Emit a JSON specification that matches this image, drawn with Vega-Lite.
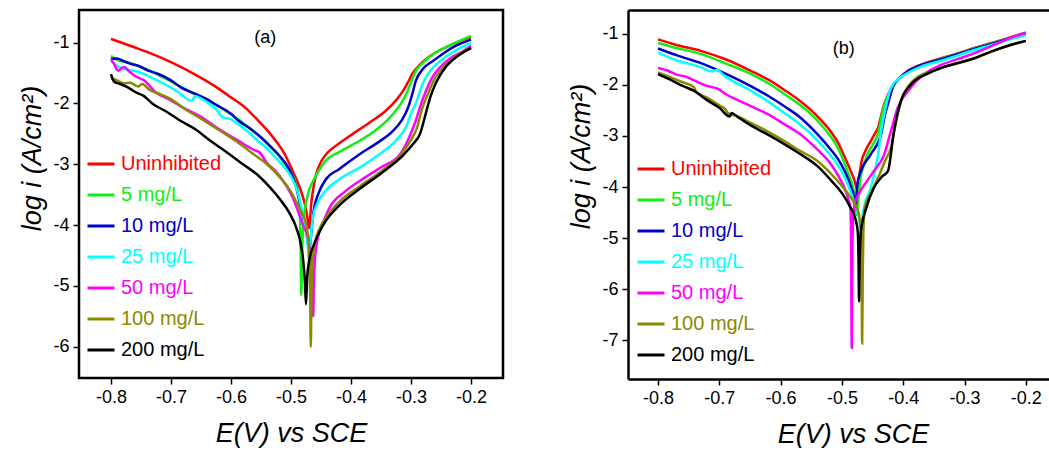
{
  "$schema": "https://vega.github.io/schema/vega-lite/v6.json",
  "padding": {"left": 16, "top": 8, "right": 0, "bottom": 0},
  "background": "white",
  "spacing": 62,
  "config": {
    "font": "Liberation Sans",
    "axis": {
      "grid": false,
      "domain": false,
      "labelFont": "Liberation Sans",
      "labelFontSize": 18,
      "labelColor": "black",
      "labelPadding": 4,
      "tickColor": "black",
      "tickSize": 6,
      "tickWidth": 1.5,
      "titleFont": "Liberation Sans",
      "titleFontSize": 27,
      "titleFontStyle": "italic",
      "titleFontWeight": "normal",
      "titleColor": "black"
    },
    "legend": {
      "orient": "none",
      "title": null,
      "padding": 0,
      "symbolType": "stroke",
      "symbolSize": 729,
      "symbolStrokeWidth": 3,
      "labelFont": "Liberation Sans",
      "labelFontSize": 20,
      "labelOffset": 5,
      "rowPadding": 6
    }
  },
  "datasets": {
    "a": [
      {"s":"Uninhibited","E":-0.800,"i":-0.94},{"s":"Uninhibited","E":-0.760,"i":-1.08},{"s":"Uninhibited","E":-0.738,"i":-1.16},{"s":"Uninhibited","E":-0.700,"i":-1.32},{"s":"Uninhibited","E":-0.655,"i":-1.55},{"s":"Uninhibited","E":-0.620,"i":-1.76},{"s":"Uninhibited","E":-0.600,"i":-1.90},{"s":"Uninhibited","E":-0.575,"i":-2.08},{"s":"Uninhibited","E":-0.555,"i":-2.28},{"s":"Uninhibited","E":-0.538,"i":-2.46},{"s":"Uninhibited","E":-0.522,"i":-2.66},{"s":"Uninhibited","E":-0.510,"i":-2.84},{"s":"Uninhibited","E":-0.500,"i":-3.05},{"s":"Uninhibited","E":-0.490,"i":-3.27},{"s":"Uninhibited","E":-0.482,"i":-3.48},{"s":"Uninhibited","E":-0.477,"i":-3.65},{"s":"Uninhibited","E":-0.473,"i":-3.85},{"s":"Uninhibited","E":-0.470,"i":-4.05},{"s":"Uninhibited","E":-0.466,"i":-3.62},{"s":"Uninhibited","E":-0.462,"i":-3.35},{"s":"Uninhibited","E":-0.458,"i":-3.16},{"s":"Uninhibited","E":-0.450,"i":-2.96},{"s":"Uninhibited","E":-0.440,"i":-2.82},{"s":"Uninhibited","E":-0.420,"i":-2.66},{"s":"Uninhibited","E":-0.397,"i":-2.50},{"s":"Uninhibited","E":-0.370,"i":-2.32},{"s":"Uninhibited","E":-0.342,"i":-2.12},{"s":"Uninhibited","E":-0.325,"i":-1.95},{"s":"Uninhibited","E":-0.313,"i":-1.79},{"s":"Uninhibited","E":-0.305,"i":-1.65},{"s":"Uninhibited","E":-0.297,"i":-1.50},{"s":"Uninhibited","E":-0.285,"i":-1.36},{"s":"Uninhibited","E":-0.265,"i":-1.20},{"s":"Uninhibited","E":-0.240,"i":-1.07},{"s":"Uninhibited","E":-0.220,"i":-0.98},{"s":"Uninhibited","E":-0.200,"i":-0.91},

      {"s":"5 mg/L","E":-0.800,"i":-1.22},{"s":"5 mg/L","E":-0.790,"i":-1.28},{"s":"5 mg/L","E":-0.767,"i":-1.34},{"s":"5 mg/L","E":-0.738,"i":-1.45},{"s":"5 mg/L","E":-0.700,"i":-1.64},{"s":"5 mg/L","E":-0.683,"i":-1.73},{"s":"5 mg/L","E":-0.650,"i":-1.90},{"s":"5 mg/L","E":-0.627,"i":-2.01},{"s":"5 mg/L","E":-0.600,"i":-2.18},{"s":"5 mg/L","E":-0.588,"i":-2.26},{"s":"5 mg/L","E":-0.570,"i":-2.40},{"s":"5 mg/L","E":-0.550,"i":-2.55},{"s":"5 mg/L","E":-0.535,"i":-2.70},{"s":"5 mg/L","E":-0.522,"i":-2.84},{"s":"5 mg/L","E":-0.510,"i":-3.00},{"s":"5 mg/L","E":-0.500,"i":-3.14},{"s":"5 mg/L","E":-0.492,"i":-3.32},{"s":"5 mg/L","E":-0.487,"i":-3.55},{"s":"5 mg/L","E":-0.485,"i":-3.85},{"s":"5 mg/L","E":-0.484,"i":-4.40},{"s":"5 mg/L","E":-0.483,"i":-5.15},{"s":"5 mg/L","E":-0.481,"i":-4.30},{"s":"5 mg/L","E":-0.478,"i":-3.85},{"s":"5 mg/L","E":-0.472,"i":-3.50},{"s":"5 mg/L","E":-0.463,"i":-3.27},{"s":"5 mg/L","E":-0.452,"i":-3.08},{"s":"5 mg/L","E":-0.442,"i":-2.94},{"s":"5 mg/L","E":-0.420,"i":-2.80},{"s":"5 mg/L","E":-0.385,"i":-2.61},{"s":"5 mg/L","E":-0.360,"i":-2.45},{"s":"5 mg/L","E":-0.335,"i":-2.23},{"s":"5 mg/L","E":-0.318,"i":-2.02},{"s":"5 mg/L","E":-0.308,"i":-1.85},{"s":"5 mg/L","E":-0.300,"i":-1.65},{"s":"5 mg/L","E":-0.292,"i":-1.47},{"s":"5 mg/L","E":-0.280,"i":-1.33},{"s":"5 mg/L","E":-0.263,"i":-1.19},{"s":"5 mg/L","E":-0.245,"i":-1.09},{"s":"5 mg/L","E":-0.230,"i":-1.02},{"s":"5 mg/L","E":-0.200,"i":-0.89},

      {"s":"10 mg/L","E":-0.800,"i":-1.27},{"s":"10 mg/L","E":-0.790,"i":-1.26},{"s":"10 mg/L","E":-0.780,"i":-1.30},{"s":"10 mg/L","E":-0.767,"i":-1.35},{"s":"10 mg/L","E":-0.755,"i":-1.38},{"s":"10 mg/L","E":-0.738,"i":-1.46},{"s":"10 mg/L","E":-0.720,"i":-1.52},{"s":"10 mg/L","E":-0.700,"i":-1.62},{"s":"10 mg/L","E":-0.683,"i":-1.74},{"s":"10 mg/L","E":-0.660,"i":-1.84},{"s":"10 mg/L","E":-0.640,"i":-1.93},{"s":"10 mg/L","E":-0.627,"i":-2.01},{"s":"10 mg/L","E":-0.600,"i":-2.17},{"s":"10 mg/L","E":-0.588,"i":-2.28},{"s":"10 mg/L","E":-0.570,"i":-2.40},{"s":"10 mg/L","E":-0.550,"i":-2.56},{"s":"10 mg/L","E":-0.535,"i":-2.70},{"s":"10 mg/L","E":-0.522,"i":-2.83},{"s":"10 mg/L","E":-0.510,"i":-2.97},{"s":"10 mg/L","E":-0.502,"i":-3.10},{"s":"10 mg/L","E":-0.492,"i":-3.35},{"s":"10 mg/L","E":-0.485,"i":-3.65},{"s":"10 mg/L","E":-0.478,"i":-3.95},{"s":"10 mg/L","E":-0.472,"i":-4.20},{"s":"10 mg/L","E":-0.469,"i":-4.40},{"s":"10 mg/L","E":-0.466,"i":-4.10},{"s":"10 mg/L","E":-0.462,"i":-3.75},{"s":"10 mg/L","E":-0.455,"i":-3.50},{"s":"10 mg/L","E":-0.442,"i":-3.25},{"s":"10 mg/L","E":-0.420,"i":-3.08},{"s":"10 mg/L","E":-0.385,"i":-2.83},{"s":"10 mg/L","E":-0.355,"i":-2.64},{"s":"10 mg/L","E":-0.330,"i":-2.45},{"s":"10 mg/L","E":-0.315,"i":-2.27},{"s":"10 mg/L","E":-0.305,"i":-2.07},{"s":"10 mg/L","E":-0.298,"i":-1.85},{"s":"10 mg/L","E":-0.292,"i":-1.63},{"s":"10 mg/L","E":-0.280,"i":-1.43},{"s":"10 mg/L","E":-0.263,"i":-1.30},{"s":"10 mg/L","E":-0.245,"i":-1.17},{"s":"10 mg/L","E":-0.225,"i":-1.05},{"s":"10 mg/L","E":-0.200,"i":-0.95},

      {"s":"25 mg/L","E":-0.800,"i":-1.30},{"s":"25 mg/L","E":-0.790,"i":-1.38},{"s":"25 mg/L","E":-0.775,"i":-1.44},{"s":"25 mg/L","E":-0.755,"i":-1.48},{"s":"25 mg/L","E":-0.738,"i":-1.55},{"s":"25 mg/L","E":-0.715,"i":-1.66},{"s":"25 mg/L","E":-0.690,"i":-1.80},{"s":"25 mg/L","E":-0.665,"i":-1.96},{"s":"25 mg/L","E":-0.660,"i":-1.88},{"s":"25 mg/L","E":-0.640,"i":-1.98},{"s":"25 mg/L","E":-0.625,"i":-2.09},{"s":"25 mg/L","E":-0.615,"i":-2.22},{"s":"25 mg/L","E":-0.600,"i":-2.26},{"s":"25 mg/L","E":-0.588,"i":-2.34},{"s":"25 mg/L","E":-0.570,"i":-2.48},{"s":"25 mg/L","E":-0.555,"i":-2.62},{"s":"25 mg/L","E":-0.540,"i":-2.74},{"s":"25 mg/L","E":-0.525,"i":-2.90},{"s":"25 mg/L","E":-0.510,"i":-3.06},{"s":"25 mg/L","E":-0.500,"i":-3.20},{"s":"25 mg/L","E":-0.490,"i":-3.42},{"s":"25 mg/L","E":-0.483,"i":-3.70},{"s":"25 mg/L","E":-0.476,"i":-4.05},{"s":"25 mg/L","E":-0.472,"i":-4.35},{"s":"25 mg/L","E":-0.470,"i":-4.60},{"s":"25 mg/L","E":-0.467,"i":-4.20},{"s":"25 mg/L","E":-0.463,"i":-3.85},{"s":"25 mg/L","E":-0.455,"i":-3.62},{"s":"25 mg/L","E":-0.442,"i":-3.43},{"s":"25 mg/L","E":-0.420,"i":-3.25},{"s":"25 mg/L","E":-0.385,"i":-3.05},{"s":"25 mg/L","E":-0.355,"i":-2.85},{"s":"25 mg/L","E":-0.325,"i":-2.61},{"s":"25 mg/L","E":-0.308,"i":-2.38},{"s":"25 mg/L","E":-0.300,"i":-2.17},{"s":"25 mg/L","E":-0.290,"i":-1.95},{"s":"25 mg/L","E":-0.283,"i":-1.74},{"s":"25 mg/L","E":-0.272,"i":-1.52},{"s":"25 mg/L","E":-0.258,"i":-1.36},{"s":"25 mg/L","E":-0.240,"i":-1.22},{"s":"25 mg/L","E":-0.220,"i":-1.10},{"s":"25 mg/L","E":-0.200,"i":-1.01},

      {"s":"50 mg/L","E":-0.800,"i":-1.27},{"s":"50 mg/L","E":-0.795,"i":-1.35},{"s":"50 mg/L","E":-0.788,"i":-1.46},{"s":"50 mg/L","E":-0.782,"i":-1.42},{"s":"50 mg/L","E":-0.778,"i":-1.40},{"s":"50 mg/L","E":-0.770,"i":-1.47},{"s":"50 mg/L","E":-0.760,"i":-1.55},{"s":"50 mg/L","E":-0.745,"i":-1.62},{"s":"50 mg/L","E":-0.725,"i":-1.82},{"s":"50 mg/L","E":-0.700,"i":-1.95},{"s":"50 mg/L","E":-0.680,"i":-2.07},{"s":"50 mg/L","E":-0.650,"i":-2.22},{"s":"50 mg/L","E":-0.620,"i":-2.42},{"s":"50 mg/L","E":-0.590,"i":-2.60},{"s":"50 mg/L","E":-0.558,"i":-2.78},{"s":"50 mg/L","E":-0.553,"i":-2.80},{"s":"50 mg/L","E":-0.540,"i":-2.98},{"s":"50 mg/L","E":-0.525,"i":-3.12},{"s":"50 mg/L","E":-0.510,"i":-3.32},{"s":"50 mg/L","E":-0.497,"i":-3.55},{"s":"50 mg/L","E":-0.488,"i":-3.78},{"s":"50 mg/L","E":-0.480,"i":-4.00},{"s":"50 mg/L","E":-0.472,"i":-4.20},{"s":"50 mg/L","E":-0.467,"i":-4.55},{"s":"50 mg/L","E":-0.464,"i":-5.00},{"s":"50 mg/L","E":-0.463,"i":-5.50},{"s":"50 mg/L","E":-0.462,"i":-5.00},{"s":"50 mg/L","E":-0.460,"i":-4.55},{"s":"50 mg/L","E":-0.455,"i":-4.20},{"s":"50 mg/L","E":-0.445,"i":-3.92},{"s":"50 mg/L","E":-0.435,"i":-3.70},{"s":"50 mg/L","E":-0.410,"i":-3.45},{"s":"50 mg/L","E":-0.385,"i":-3.27},{"s":"50 mg/L","E":-0.350,"i":-3.05},{"s":"50 mg/L","E":-0.318,"i":-2.83},{"s":"50 mg/L","E":-0.305,"i":-2.60},{"s":"50 mg/L","E":-0.292,"i":-2.28},{"s":"50 mg/L","E":-0.283,"i":-2.00},{"s":"50 mg/L","E":-0.275,"i":-1.79},{"s":"50 mg/L","E":-0.265,"i":-1.58},{"s":"50 mg/L","E":-0.252,"i":-1.41},{"s":"50 mg/L","E":-0.235,"i":-1.26},{"s":"50 mg/L","E":-0.215,"i":-1.15},{"s":"50 mg/L","E":-0.200,"i":-1.05},

      {"s":"100 mg/L","E":-0.800,"i":-1.58},{"s":"100 mg/L","E":-0.790,"i":-1.62},{"s":"100 mg/L","E":-0.778,"i":-1.67},{"s":"100 mg/L","E":-0.768,"i":-1.66},{"s":"100 mg/L","E":-0.755,"i":-1.72},{"s":"100 mg/L","E":-0.748,"i":-1.68},{"s":"100 mg/L","E":-0.735,"i":-1.78},{"s":"100 mg/L","E":-0.720,"i":-1.84},{"s":"100 mg/L","E":-0.700,"i":-1.93},{"s":"100 mg/L","E":-0.680,"i":-2.07},{"s":"100 mg/L","E":-0.650,"i":-2.25},{"s":"100 mg/L","E":-0.618,"i":-2.45},{"s":"100 mg/L","E":-0.590,"i":-2.63},{"s":"100 mg/L","E":-0.563,"i":-2.83},{"s":"100 mg/L","E":-0.540,"i":-3.00},{"s":"100 mg/L","E":-0.518,"i":-3.22},{"s":"100 mg/L","E":-0.502,"i":-3.42},{"s":"100 mg/L","E":-0.492,"i":-3.60},{"s":"100 mg/L","E":-0.483,"i":-3.78},{"s":"100 mg/L","E":-0.477,"i":-3.90},{"s":"100 mg/L","E":-0.472,"i":-4.15},{"s":"100 mg/L","E":-0.469,"i":-4.60},{"s":"100 mg/L","E":-0.468,"i":-5.20},{"s":"100 mg/L","E":-0.467,"i":-6.00},{"s":"100 mg/L","E":-0.466,"i":-5.20},{"s":"100 mg/L","E":-0.464,"i":-4.60},{"s":"100 mg/L","E":-0.460,"i":-4.30},{"s":"100 mg/L","E":-0.452,"i":-4.05},{"s":"100 mg/L","E":-0.442,"i":-3.88},{"s":"100 mg/L","E":-0.420,"i":-3.62},{"s":"100 mg/L","E":-0.385,"i":-3.36},{"s":"100 mg/L","E":-0.350,"i":-3.12},{"s":"100 mg/L","E":-0.318,"i":-2.85},{"s":"100 mg/L","E":-0.300,"i":-2.60},{"s":"100 mg/L","E":-0.290,"i":-2.40},{"s":"100 mg/L","E":-0.282,"i":-2.10},{"s":"100 mg/L","E":-0.272,"i":-1.85},{"s":"100 mg/L","E":-0.262,"i":-1.62},{"s":"100 mg/L","E":-0.250,"i":-1.45},{"s":"100 mg/L","E":-0.232,"i":-1.28},{"s":"100 mg/L","E":-0.215,"i":-1.16},{"s":"100 mg/L","E":-0.200,"i":-1.08},

      {"s":"200 mg/L","E":-0.800,"i":-1.52},{"s":"200 mg/L","E":-0.795,"i":-1.64},{"s":"200 mg/L","E":-0.785,"i":-1.68},{"s":"200 mg/L","E":-0.775,"i":-1.72},{"s":"200 mg/L","E":-0.758,"i":-1.82},{"s":"200 mg/L","E":-0.745,"i":-1.88},{"s":"200 mg/L","E":-0.730,"i":-2.01},{"s":"200 mg/L","E":-0.710,"i":-2.12},{"s":"200 mg/L","E":-0.685,"i":-2.28},{"s":"200 mg/L","E":-0.660,"i":-2.42},{"s":"200 mg/L","E":-0.635,"i":-2.61},{"s":"200 mg/L","E":-0.610,"i":-2.78},{"s":"200 mg/L","E":-0.580,"i":-3.00},{"s":"200 mg/L","E":-0.555,"i":-3.18},{"s":"200 mg/L","E":-0.535,"i":-3.38},{"s":"200 mg/L","E":-0.518,"i":-3.58},{"s":"200 mg/L","E":-0.502,"i":-3.81},{"s":"200 mg/L","E":-0.492,"i":-4.02},{"s":"200 mg/L","E":-0.485,"i":-4.25},{"s":"200 mg/L","E":-0.480,"i":-4.55},{"s":"200 mg/L","E":-0.477,"i":-4.90},{"s":"200 mg/L","E":-0.475,"i":-5.30},{"s":"200 mg/L","E":-0.473,"i":-4.85},{"s":"200 mg/L","E":-0.469,"i":-4.55},{"s":"200 mg/L","E":-0.463,"i":-4.35},{"s":"200 mg/L","E":-0.452,"i":-4.10},{"s":"200 mg/L","E":-0.442,"i":-3.93},{"s":"200 mg/L","E":-0.420,"i":-3.68},{"s":"200 mg/L","E":-0.385,"i":-3.40},{"s":"200 mg/L","E":-0.350,"i":-3.15},{"s":"200 mg/L","E":-0.313,"i":-2.85},{"s":"200 mg/L","E":-0.297,"i":-2.67},{"s":"200 mg/L","E":-0.285,"i":-2.50},{"s":"200 mg/L","E":-0.275,"i":-2.15},{"s":"200 mg/L","E":-0.268,"i":-1.90},{"s":"200 mg/L","E":-0.258,"i":-1.65},{"s":"200 mg/L","E":-0.242,"i":-1.40},{"s":"200 mg/L","E":-0.225,"i":-1.24},{"s":"200 mg/L","E":-0.213,"i":-1.16},{"s":"200 mg/L","E":-0.200,"i":-1.09}
    ],
    "b": [
      {"s":"Uninhibited","E":-0.800,"i":-1.11},{"s":"Uninhibited","E":-0.770,"i":-1.22},{"s":"Uninhibited","E":-0.729,"i":-1.34},{"s":"Uninhibited","E":-0.690,"i":-1.50},{"s":"Uninhibited","E":-0.648,"i":-1.73},{"s":"Uninhibited","E":-0.620,"i":-1.90},{"s":"Uninhibited","E":-0.594,"i":-2.10},{"s":"Uninhibited","E":-0.570,"i":-2.30},{"s":"Uninhibited","E":-0.550,"i":-2.50},{"s":"Uninhibited","E":-0.535,"i":-2.68},{"s":"Uninhibited","E":-0.518,"i":-2.92},{"s":"Uninhibited","E":-0.506,"i":-3.14},{"s":"Uninhibited","E":-0.496,"i":-3.40},{"s":"Uninhibited","E":-0.487,"i":-3.65},{"s":"Uninhibited","E":-0.480,"i":-3.85},{"s":"Uninhibited","E":-0.475,"i":-4.05},{"s":"Uninhibited","E":-0.472,"i":-3.80},{"s":"Uninhibited","E":-0.468,"i":-3.50},{"s":"Uninhibited","E":-0.462,"i":-3.30},{"s":"Uninhibited","E":-0.453,"i":-3.10},{"s":"Uninhibited","E":-0.446,"i":-2.95},{"s":"Uninhibited","E":-0.441,"i":-2.84},{"s":"Uninhibited","E":-0.436,"i":-2.60},{"s":"Uninhibited","E":-0.431,"i":-2.38},{"s":"Uninhibited","E":-0.423,"i":-2.15},{"s":"Uninhibited","E":-0.415,"i":-1.99},{"s":"Uninhibited","E":-0.405,"i":-1.85},{"s":"Uninhibited","E":-0.393,"i":-1.73},{"s":"Uninhibited","E":-0.370,"i":-1.60},{"s":"Uninhibited","E":-0.338,"i":-1.48},{"s":"Uninhibited","E":-0.310,"i":-1.38},{"s":"Uninhibited","E":-0.284,"i":-1.28},{"s":"Uninhibited","E":-0.250,"i":-1.16},{"s":"Uninhibited","E":-0.225,"i":-1.07},{"s":"Uninhibited","E":-0.200,"i":-0.98},

      {"s":"5 mg/L","E":-0.800,"i":-1.18},{"s":"5 mg/L","E":-0.770,"i":-1.28},{"s":"5 mg/L","E":-0.729,"i":-1.40},{"s":"5 mg/L","E":-0.690,"i":-1.58},{"s":"5 mg/L","E":-0.648,"i":-1.79},{"s":"5 mg/L","E":-0.620,"i":-1.97},{"s":"5 mg/L","E":-0.594,"i":-2.18},{"s":"5 mg/L","E":-0.570,"i":-2.38},{"s":"5 mg/L","E":-0.550,"i":-2.58},{"s":"5 mg/L","E":-0.535,"i":-2.77},{"s":"5 mg/L","E":-0.518,"i":-3.02},{"s":"5 mg/L","E":-0.506,"i":-3.25},{"s":"5 mg/L","E":-0.497,"i":-3.50},{"s":"5 mg/L","E":-0.490,"i":-3.72},{"s":"5 mg/L","E":-0.484,"i":-3.92},{"s":"5 mg/L","E":-0.479,"i":-4.20},{"s":"5 mg/L","E":-0.476,"i":-4.55},{"s":"5 mg/L","E":-0.473,"i":-4.20},{"s":"5 mg/L","E":-0.470,"i":-3.85},{"s":"5 mg/L","E":-0.465,"i":-3.60},{"s":"5 mg/L","E":-0.458,"i":-3.35},{"s":"5 mg/L","E":-0.450,"i":-3.18},{"s":"5 mg/L","E":-0.441,"i":-2.95},{"s":"5 mg/L","E":-0.434,"i":-2.55},{"s":"5 mg/L","E":-0.428,"i":-2.30},{"s":"5 mg/L","E":-0.420,"i":-2.10},{"s":"5 mg/L","E":-0.410,"i":-1.92},{"s":"5 mg/L","E":-0.393,"i":-1.75},{"s":"5 mg/L","E":-0.370,"i":-1.62},{"s":"5 mg/L","E":-0.338,"i":-1.49},{"s":"5 mg/L","E":-0.310,"i":-1.39},{"s":"5 mg/L","E":-0.284,"i":-1.29},{"s":"5 mg/L","E":-0.250,"i":-1.17},{"s":"5 mg/L","E":-0.225,"i":-1.08},{"s":"5 mg/L","E":-0.200,"i":-0.99},

      {"s":"10 mg/L","E":-0.800,"i":-1.29},{"s":"10 mg/L","E":-0.770,"i":-1.42},{"s":"10 mg/L","E":-0.729,"i":-1.58},{"s":"10 mg/L","E":-0.690,"i":-1.78},{"s":"10 mg/L","E":-0.648,"i":-2.03},{"s":"10 mg/L","E":-0.620,"i":-2.22},{"s":"10 mg/L","E":-0.594,"i":-2.42},{"s":"10 mg/L","E":-0.570,"i":-2.62},{"s":"10 mg/L","E":-0.539,"i":-2.98},{"s":"10 mg/L","E":-0.520,"i":-3.24},{"s":"10 mg/L","E":-0.506,"i":-3.46},{"s":"10 mg/L","E":-0.495,"i":-3.70},{"s":"10 mg/L","E":-0.485,"i":-4.00},{"s":"10 mg/L","E":-0.480,"i":-4.22},{"s":"10 mg/L","E":-0.478,"i":-4.45},{"s":"10 mg/L","E":-0.475,"i":-3.95},{"s":"10 mg/L","E":-0.470,"i":-3.72},{"s":"10 mg/L","E":-0.453,"i":-3.36},{"s":"10 mg/L","E":-0.436,"i":-2.96},{"s":"10 mg/L","E":-0.430,"i":-2.60},{"s":"10 mg/L","E":-0.425,"i":-2.38},{"s":"10 mg/L","E":-0.415,"i":-1.99},{"s":"10 mg/L","E":-0.404,"i":-1.85},{"s":"10 mg/L","E":-0.393,"i":-1.74},{"s":"10 mg/L","E":-0.370,"i":-1.61},{"s":"10 mg/L","E":-0.338,"i":-1.50},{"s":"10 mg/L","E":-0.284,"i":-1.30},{"s":"10 mg/L","E":-0.250,"i":-1.18},{"s":"10 mg/L","E":-0.225,"i":-1.09},{"s":"10 mg/L","E":-0.200,"i":-1.01},

      {"s":"25 mg/L","E":-0.800,"i":-1.37},{"s":"25 mg/L","E":-0.770,"i":-1.52},{"s":"25 mg/L","E":-0.729,"i":-1.66},{"s":"25 mg/L","E":-0.712,"i":-1.74},{"s":"25 mg/L","E":-0.705,"i":-1.71},{"s":"25 mg/L","E":-0.690,"i":-1.84},{"s":"25 mg/L","E":-0.648,"i":-2.12},{"s":"25 mg/L","E":-0.620,"i":-2.33},{"s":"25 mg/L","E":-0.594,"i":-2.55},{"s":"25 mg/L","E":-0.570,"i":-2.76},{"s":"25 mg/L","E":-0.539,"i":-3.10},{"s":"25 mg/L","E":-0.520,"i":-3.36},{"s":"25 mg/L","E":-0.506,"i":-3.58},{"s":"25 mg/L","E":-0.495,"i":-3.82},{"s":"25 mg/L","E":-0.485,"i":-4.12},{"s":"25 mg/L","E":-0.478,"i":-4.38},{"s":"25 mg/L","E":-0.472,"i":-4.62},{"s":"25 mg/L","E":-0.469,"i":-4.85},{"s":"25 mg/L","E":-0.466,"i":-4.55},{"s":"25 mg/L","E":-0.463,"i":-4.35},{"s":"25 mg/L","E":-0.453,"i":-4.02},{"s":"25 mg/L","E":-0.441,"i":-3.36},{"s":"25 mg/L","E":-0.436,"i":-2.90},{"s":"25 mg/L","E":-0.431,"i":-2.57},{"s":"25 mg/L","E":-0.420,"i":-2.06},{"s":"25 mg/L","E":-0.405,"i":-1.86},{"s":"25 mg/L","E":-0.393,"i":-1.77},{"s":"25 mg/L","E":-0.370,"i":-1.64},{"s":"25 mg/L","E":-0.338,"i":-1.53},{"s":"25 mg/L","E":-0.284,"i":-1.32},{"s":"25 mg/L","E":-0.250,"i":-1.20},{"s":"25 mg/L","E":-0.225,"i":-1.11},{"s":"25 mg/L","E":-0.200,"i":-1.03},

      {"s":"50 mg/L","E":-0.800,"i":-1.67},{"s":"50 mg/L","E":-0.785,"i":-1.72},{"s":"50 mg/L","E":-0.770,"i":-1.80},{"s":"50 mg/L","E":-0.755,"i":-1.84},{"s":"50 mg/L","E":-0.740,"i":-1.92},{"s":"50 mg/L","E":-0.720,"i":-2.02},{"s":"50 mg/L","E":-0.702,"i":-2.08},{"s":"50 mg/L","E":-0.690,"i":-2.18},{"s":"50 mg/L","E":-0.670,"i":-2.30},{"s":"50 mg/L","E":-0.648,"i":-2.42},{"s":"50 mg/L","E":-0.620,"i":-2.58},{"s":"50 mg/L","E":-0.594,"i":-2.77},{"s":"50 mg/L","E":-0.570,"i":-2.95},{"s":"50 mg/L","E":-0.539,"i":-3.28},{"s":"50 mg/L","E":-0.520,"i":-3.52},{"s":"50 mg/L","E":-0.506,"i":-3.78},{"s":"50 mg/L","E":-0.495,"i":-4.04},{"s":"50 mg/L","E":-0.490,"i":-4.22},{"s":"50 mg/L","E":-0.486,"i":-4.45},{"s":"50 mg/L","E":-0.485,"i":-5.20},{"s":"50 mg/L","E":-0.484,"i":-7.15},{"s":"50 mg/L","E":-0.483,"i":-5.20},{"s":"50 mg/L","E":-0.481,"i":-4.50},{"s":"50 mg/L","E":-0.478,"i":-4.28},{"s":"50 mg/L","E":-0.472,"i":-4.12},{"s":"50 mg/L","E":-0.460,"i":-3.90},{"s":"50 mg/L","E":-0.448,"i":-3.69},{"s":"50 mg/L","E":-0.431,"i":-3.36},{"s":"50 mg/L","E":-0.420,"i":-2.90},{"s":"50 mg/L","E":-0.409,"i":-2.45},{"s":"50 mg/L","E":-0.392,"i":-2.12},{"s":"50 mg/L","E":-0.366,"i":-1.79},{"s":"50 mg/L","E":-0.340,"i":-1.62},{"s":"50 mg/L","E":-0.300,"i":-1.45},{"s":"50 mg/L","E":-0.284,"i":-1.38},{"s":"50 mg/L","E":-0.250,"i":-1.21},{"s":"50 mg/L","E":-0.225,"i":-1.08},{"s":"50 mg/L","E":-0.200,"i":-0.98},

      {"s":"100 mg/L","E":-0.800,"i":-1.76},{"s":"100 mg/L","E":-0.780,"i":-1.85},{"s":"100 mg/L","E":-0.760,"i":-1.95},{"s":"100 mg/L","E":-0.741,"i":-2.05},{"s":"100 mg/L","E":-0.738,"i":-2.14},{"s":"100 mg/L","E":-0.720,"i":-2.25},{"s":"100 mg/L","E":-0.700,"i":-2.40},{"s":"100 mg/L","E":-0.690,"i":-2.48},{"s":"100 mg/L","E":-0.686,"i":-2.55},{"s":"100 mg/L","E":-0.670,"i":-2.62},{"s":"100 mg/L","E":-0.648,"i":-2.75},{"s":"100 mg/L","E":-0.620,"i":-2.92},{"s":"100 mg/L","E":-0.594,"i":-3.10},{"s":"100 mg/L","E":-0.570,"i":-3.28},{"s":"100 mg/L","E":-0.539,"i":-3.50},{"s":"100 mg/L","E":-0.517,"i":-3.75},{"s":"100 mg/L","E":-0.500,"i":-3.98},{"s":"100 mg/L","E":-0.487,"i":-4.18},{"s":"100 mg/L","E":-0.478,"i":-4.35},{"s":"100 mg/L","E":-0.472,"i":-4.55},{"s":"100 mg/L","E":-0.469,"i":-4.90},{"s":"100 mg/L","E":-0.468,"i":-5.60},{"s":"100 mg/L","E":-0.467,"i":-7.06},{"s":"100 mg/L","E":-0.466,"i":-5.60},{"s":"100 mg/L","E":-0.465,"i":-4.90},{"s":"100 mg/L","E":-0.463,"i":-4.41},{"s":"100 mg/L","E":-0.452,"i":-4.10},{"s":"100 mg/L","E":-0.441,"i":-3.82},{"s":"100 mg/L","E":-0.430,"i":-3.50},{"s":"100 mg/L","E":-0.420,"i":-3.23},{"s":"100 mg/L","E":-0.409,"i":-2.57},{"s":"100 mg/L","E":-0.399,"i":-2.18},{"s":"100 mg/L","E":-0.390,"i":-2.00},{"s":"100 mg/L","E":-0.380,"i":-1.88},{"s":"100 mg/L","E":-0.350,"i":-1.72},{"s":"100 mg/L","E":-0.284,"i":-1.48},{"s":"100 mg/L","E":-0.250,"i":-1.32},{"s":"100 mg/L","E":-0.225,"i":-1.22},{"s":"100 mg/L","E":-0.200,"i":-1.14},

      {"s":"200 mg/L","E":-0.800,"i":-1.79},{"s":"200 mg/L","E":-0.780,"i":-1.90},{"s":"200 mg/L","E":-0.760,"i":-2.02},{"s":"200 mg/L","E":-0.741,"i":-2.12},{"s":"200 mg/L","E":-0.720,"i":-2.30},{"s":"200 mg/L","E":-0.700,"i":-2.45},{"s":"200 mg/L","E":-0.683,"i":-2.62},{"s":"200 mg/L","E":-0.680,"i":-2.55},{"s":"200 mg/L","E":-0.670,"i":-2.63},{"s":"200 mg/L","E":-0.648,"i":-2.80},{"s":"200 mg/L","E":-0.620,"i":-2.98},{"s":"200 mg/L","E":-0.594,"i":-3.16},{"s":"200 mg/L","E":-0.570,"i":-3.34},{"s":"200 mg/L","E":-0.539,"i":-3.60},{"s":"200 mg/L","E":-0.517,"i":-3.88},{"s":"200 mg/L","E":-0.500,"i":-4.12},{"s":"200 mg/L","E":-0.487,"i":-4.38},{"s":"200 mg/L","E":-0.478,"i":-4.62},{"s":"200 mg/L","E":-0.474,"i":-4.90},{"s":"200 mg/L","E":-0.473,"i":-5.40},{"s":"200 mg/L","E":-0.472,"i":-6.24},{"s":"200 mg/L","E":-0.471,"i":-5.40},{"s":"200 mg/L","E":-0.469,"i":-4.87},{"s":"200 mg/L","E":-0.460,"i":-4.40},{"s":"200 mg/L","E":-0.448,"i":-4.02},{"s":"200 mg/L","E":-0.435,"i":-3.80},{"s":"200 mg/L","E":-0.425,"i":-3.69},{"s":"200 mg/L","E":-0.415,"i":-2.90},{"s":"200 mg/L","E":-0.404,"i":-2.32},{"s":"200 mg/L","E":-0.387,"i":-1.99},{"s":"200 mg/L","E":-0.360,"i":-1.78},{"s":"200 mg/L","E":-0.338,"i":-1.67},{"s":"200 mg/L","E":-0.284,"i":-1.48},{"s":"200 mg/L","E":-0.250,"i":-1.32},{"s":"200 mg/L","E":-0.225,"i":-1.22},{"s":"200 mg/L","E":-0.200,"i":-1.14}
    ]
  },
  "resolve": {"legend": {"color": "independent"}, "scale": {"x": "independent", "y": "independent"}},
  "hconcat": [
    {
      "width": 424,
      "height": 368,
      "view": {"stroke": "black", "strokeWidth": 2.5},
      "layer": [
        {
          "data": {"name": "a"},
          "mark": {"type": "line", "strokeWidth": 2.5, "interpolate": "monotone"},
          "encoding": {
            "x": {"field": "E", "type": "quantitative",
                  "scale": {"domain": [-0.8533, -0.1467], "nice": false, "zero": false},
                  "axis": {"values": [-0.8, -0.7, -0.6, -0.5, -0.4, -0.3, -0.2],
                           "labelExpr": "'-' + format(abs(datum.value), '.1f')",
                           "labelDx": -6,
                           "title": "E(V) vs SCE", "titlePadding": 14}},
            "y": {"field": "i", "type": "quantitative",
                  "scale": {"domain": [-6.513, -0.464], "nice": false, "zero": false},
                  "axis": {"values": [-6, -5, -4, -3, -2, -1],
                           "labelExpr": "'-' + format(abs(datum.value), 'd')",
                           "title": "log i (A/cm²)", "titleX": -33, "titleY": 148}},
            "color": {"field": "s", "type": "nominal",
                      "scale": {"domain": ["Uninhibited", "5 mg/L", "10 mg/L", "25 mg/L", "50 mg/L", "100 mg/L", "200 mg/L"],
                                "range": ["#ff0000", "#11ee11", "#0000cc", "#00ffff", "#ff00ff", "#8a8a00", "#000000"]},
                      "legend": {"legendX": 7, "legendY": 139,
                                 "encode": {"labels": {"update": {"fill": {"signal": "datum.value === 'Uninhibited' ? '#ff0000' : datum.value === '5 mg/L' ? '#11ee11' : datum.value === '10 mg/L' ? '#0000cc' : datum.value === '25 mg/L' ? '#00ffff' : datum.value === '50 mg/L' ? '#ff00ff' : datum.value === '100 mg/L' ? '#8a8a00' : '#000000'"}}}}}}
          }
        },
        {
          "data": {"values": [{"E": -0.543, "i": -0.92, "t": "(a)"}]},
          "mark": {"type": "text", "fontSize": 18, "font": "Liberation Sans", "color": "black"},
          "encoding": {
            "x": {"field": "E", "type": "quantitative"},
            "y": {"field": "i", "type": "quantitative"},
            "text": {"field": "t"}
          }
        }
      ]
    },
    {
      "width": 421,
      "height": 369,
      "view": {"stroke": null},
      "resolve": {"axis": {"x": "independent"}},
      "layer": [
        {
          "data": {"name": "b"},
          "mark": {"type": "line", "strokeWidth": 2.5, "interpolate": "monotone"},
          "encoding": {
            "x": {"field": "E", "type": "quantitative",
                  "scale": {"domain": [-0.849, -0.1622], "nice": false, "zero": false},
                  "axis": {"values": [-0.8, -0.7, -0.6, -0.5, -0.4, -0.3, -0.2],
                           "labelExpr": "'-' + format(abs(datum.value), '.1f')",
                           "domain": true, "domainColor": "black", "domainWidth": 2.5,
                           "title": "E(V) vs SCE", "titlePadding": 14, "titleX": 225}},
            "y": {"field": "i", "type": "quantitative",
                  "scale": {"domain": [-7.757, -0.536], "nice": false, "zero": false},
                  "axis": {"values": [-7, -6, -5, -4, -3, -2, -1],
                           "labelExpr": "'-' + format(abs(datum.value), 'd')",
                           "domain": true, "domainColor": "black", "domainWidth": 2.5,
                           "title": "log i (A/cm²)", "titleX": -33, "titleY": 146}},
            "color": {"field": "s", "type": "nominal",
                      "scale": {"domain": ["Uninhibited", "5 mg/L", "10 mg/L", "25 mg/L", "50 mg/L", "100 mg/L", "200 mg/L"],
                                "range": ["#ff0000", "#11ee11", "#0000cc", "#00ffff", "#ff00ff", "#8a8a00", "#000000"]},
                      "legend": {"legendX": 8, "legendY": 144,
                                 "encode": {"labels": {"update": {"fill": {"signal": "datum.value === 'Uninhibited' ? '#ff0000' : datum.value === '5 mg/L' ? '#11ee11' : datum.value === '10 mg/L' ? '#0000cc' : datum.value === '25 mg/L' ? '#00ffff' : datum.value === '50 mg/L' ? '#ff00ff' : datum.value === '100 mg/L' ? '#8a8a00' : '#000000'"}}}}}}
          }
        },
        {
          "data": {"values": [{"E": -0.497, "i": -1.30, "t": "(b)"}]},
          "mark": {"type": "text", "fontSize": 18, "font": "Liberation Sans", "color": "black"},
          "encoding": {
            "x": {"field": "E", "type": "quantitative",
                  "axis": {"orient": "top", "labels": false, "ticks": false, "title": null,
                           "domain": true, "domainColor": "black", "domainWidth": 2.5}},
            "y": {"field": "i", "type": "quantitative"},
            "text": {"field": "t"}
          }
        }
      ]
    }
  ]
}
